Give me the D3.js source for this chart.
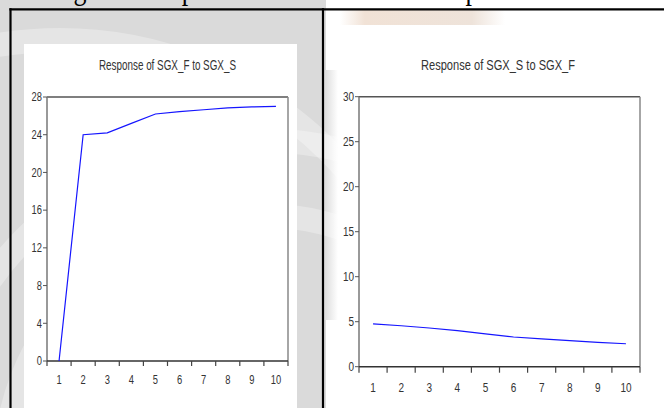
<!DOCTYPE html>
<head>
<meta charset="utf-8">
<script src="https://d3js.org/d3.v7.min.js"></script>
<style>
  body { margin: 0; background: #fff; }
  svg { display: block; }
  .tick-label { font-family: "Liberation Sans", Arial, sans-serif; fill: #333; }
  .title { font-family: "Liberation Sans", Arial, sans-serif; fill: #333; }
  .caption { font-family: "Liberation Serif", "Times New Roman", serif; fill: #000; }
</style>
</head>
<body>
<script>

// impulse response periods and values
var steps = ["1", "2", "3", "4", "5", "6", "7", "8", "9", "10"];
var respFtoS = [0, 24.0, 24.2, 25.2, 26.2, 26.45, 26.65, 26.85, 26.95, 27.0];
var respStoF = [4.75, 4.55, 4.3, 4.0, 3.65, 3.3, 3.1, 2.9, 2.7, 2.55];
var leftTicks = [0, 4, 8, 12, 16, 20, 24, 28];
var rightTicks = [0, 5, 10, 15, 20, 25, 30];
var caption = "Figure 4: Impulse Results of the SGX Spot";

var W = 664, H = 408;

var svg = d3.select("body").append("svg")
    .attr("width", W)
    .attr("height", H);

// faded watermark behind the table
var defs = svg.append("defs");
var grad = defs.append("linearGradient").attr("id", "fade").attr("x1", 0).attr("x2", 1);
grad.append("stop").attr("offset", 0).attr("stop-color", "#dadada");
grad.append("stop").attr("offset", 1).attr("stop-color", "#fff");
var peach = defs.append("linearGradient").attr("id", "peach").attr("x1", 0).attr("x2", 1);
peach.append("stop").attr("offset", 0).attr("stop-color", "#fff");
peach.append("stop").attr("offset", 0.15).attr("stop-color", "#f1e2d6");
peach.append("stop").attr("offset", 0.8).attr("stop-color", "#eee3da");
peach.append("stop").attr("offset", 1).attr("stop-color", "#fff");

var bg = svg.append("g");
bg.append("rect").attr("x", 0).attr("y", 0).attr("width", 326).attr("height", H).attr("fill", "#dadada");
bg.append("rect").attr("x", 324).attr("y", 70).attr("width", 14).attr("height", 250).attr("fill", "url(#fade)");
bg.append("rect").attr("x", 340).attr("y", 10).attr("width", 165).attr("height", 15).attr("fill", "url(#peach)");
[[260, 470, 330], [260, 470, 255], [60, 420, 380]].forEach(function(c) {
  bg.append("circle").attr("cx", c[0]).attr("cy", c[1]).attr("r", c[2])
    .attr("fill", "none").attr("stroke", "#fff").attr("stroke-opacity", 0.3).attr("stroke-width", 24);
});

// cut-off caption line at the top: only the descenders show
var cap = svg.append("text").attr("class", "caption")
    .attr("x", 0).attr("y", -0.8)
    .style("font-size", "34px")
    .text(caption);
var node = cap.node();
var gi = caption.indexOf("g"), pi = caption.lastIndexOf("p");
var gx = node.getSubStringLength(0, gi) + node.getSubStringLength(gi, 1) / 2;
var px = node.getSubStringLength(0, pi) + node.getSubStringLength(pi, 1) / 2;
var k = (472 - 80) / (px - gx);
cap.attr("x", 80 - gx * k)
   .attr("textLength", node.getComputedTextLength() * k)
   .attr("lengthAdjust", "spacingAndGlyphs");

function label(g, x, y, txt, fs, sx, anchor, dy) {
  g.append("text").attr("class", "tick-label")
    .attr("transform", "translate(" + x + "," + y + ") scale(" + sx + ",1)")
    .attr("dy", dy).attr("text-anchor", anchor)
    .style("font-size", fs + "px").text(txt);
}

function panel(o) {
  var g = svg.append("g");
  if (o.bgRect) {
    g.append("rect").attr("x", o.bgRect[0]).attr("y", o.bgRect[1])
      .attr("width", o.bgRect[2]).attr("height", o.bgRect[3]).attr("fill", "#fff");
  }
  var x = d3.scaleBand().domain(steps).range([o.x0, o.x1]);
  var y = d3.scaleLinear().domain(o.domain).range([o.y0, o.y1]);

  // frame
  g.append("line").attr("x1", o.x0).attr("x2", o.x1).attr("y1", o.y1).attr("y2", o.y1)
    .attr("stroke", "#555").attr("stroke-width", 1.5);
  g.append("line").attr("x1", o.x1).attr("x2", o.x1).attr("y1", o.y1).attr("y2", o.y0)
    .attr("stroke", "#888").attr("stroke-width", 1.5);
  g.append("line").attr("x1", o.x0).attr("x2", o.x0).attr("y1", o.y1).attr("y2", o.y0)
    .attr("stroke", "#777").attr("stroke-width", 1.5);
  g.append("line").attr("x1", o.x0).attr("x2", o.x1).attr("y1", o.y0).attr("y2", o.y0)
    .attr("stroke", "#333").attr("stroke-width", 1.5);

  // y ticks
  o.ticks.forEach(function(t) {
    g.append("line").attr("x1", o.x0 - 4).attr("x2", o.x0).attr("y1", y(t)).attr("y2", y(t))
      .attr("stroke", "#555").attr("stroke-width", 1);
    label(g, o.x0 - 5, y(t), t, o.fs, o.sx, "end", "0.36em");
  });

  // x ticks at band edges, labels in band centres
  var edges = steps.map(function(s) { return x(s); }).concat([o.x1]);
  edges.forEach(function(e) {
    g.append("line").attr("x1", e).attr("x2", e).attr("y1", o.y0).attr("y2", o.y0 + o.xt)
      .attr("stroke", "#444").attr("stroke-width", 1.2);
  });
  steps.forEach(function(s) {
    label(g, x(s) + x.bandwidth() / 2, o.xl, s, o.fs, o.sx, "middle", 0);
  });

  g.append("text").attr("class", "title")
    .attr("x", o.tx - o.tw / 2).attr("y", 70)
    .attr("textLength", o.tw).attr("lengthAdjust", "spacingAndGlyphs")
    .style("font-size", o.tfs + "px").text(o.title);

  var line = d3.line()
    .x(function(d, i) { return x(steps[i]) + x.bandwidth() / 2; })
    .y(function(d) { return y(d); });
  g.append("path").datum(o.values).attr("d", line)
    .attr("fill", "none").attr("stroke", "#1515ff").attr("stroke-width", 1.2);
}

panel({
  bgRect: [24, 44, 273, 364],
  x0: 47, x1: 288, y0: 361, y1: 97, domain: [0, 28], ticks: leftTicks,
  values: respFtoS, title: "Response of SGX_F to SGX_S", tx: 167.5, tw: 137,
  fs: 12, sx: 0.78, tfs: 14, xt: 5, xl: 384
});
panel({
  x0: 359, x1: 640, y0: 366.7, y1: 96.7, domain: [0, 30], ticks: rightTicks,
  values: respStoF, title: "Response of SGX_S to SGX_F", tx: 498, tw: 154,
  fs: 12.5, sx: 0.8, tfs: 14.5, xt: 6, xl: 392
});

// table borders
var tb = svg.append("g").attr("stroke", "#000").attr("stroke-width", 2.2);
tb.append("line").attr("x1", 9.4).attr("x2", W).attr("y1", 9.3).attr("y2", 9.3);
tb.append("line").attr("x1", 10.5).attr("x2", 10.5).attr("y1", 8.2).attr("y2", H);
tb.append("line").attr("x1", 323).attr("x2", 323).attr("y1", 8.2).attr("y2", H);
</script>
</body>
